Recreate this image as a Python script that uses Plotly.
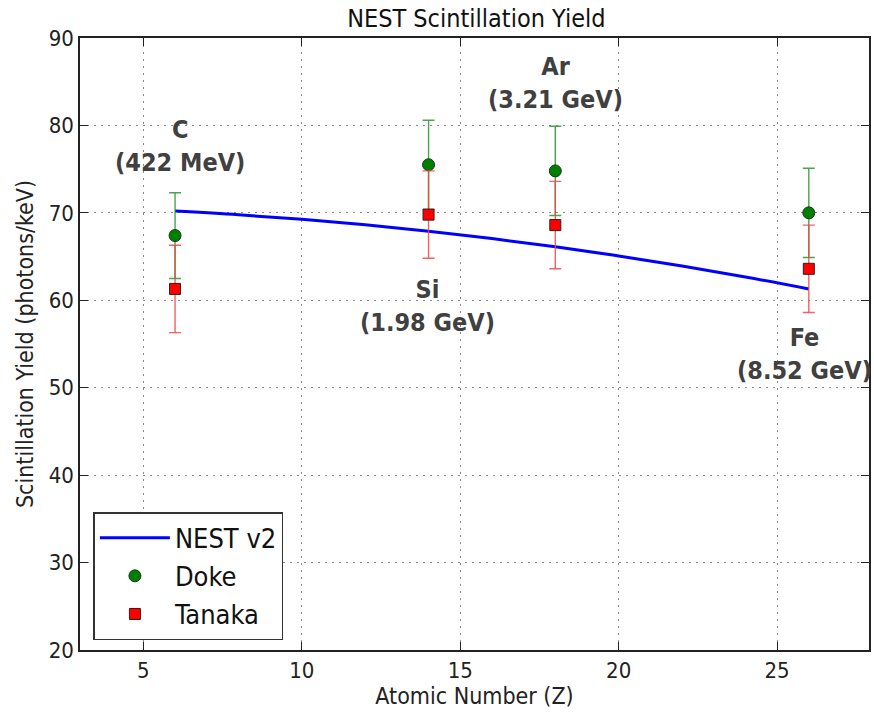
import plotly.graph_objects as go

# ---- data ----
z_points = [6, 14, 18, 26]
doke_yield = [67.4, 75.5, 74.8, 70.0]
doke_err = [4.9, 5.1, 5.1, 5.1]
tanaka_yield = [61.3, 69.8, 68.6, 63.6]
tanaka_err = [5.0, 5.0, 5.0, 5.0]

nest_z = [6, 8, 10, 12, 14, 16, 18, 20, 22, 24, 26]
nest_yield = [70.2, 69.78, 69.26, 68.63, 67.9, 67.06, 66.12, 65.07, 63.92, 62.66, 61.3]

ion_labels = ["C<br>(422 MeV)", "Si<br>(1.98 GeV)", "Ar<br>(3.21 GeV)", "Fe<br>(8.52 GeV)"]
label_x = [6.15, 13.96, 18.02, 25.85]
label_y = [77.6, 59.4, 84.9, 53.9]

x_ticks = [5, 10, 15, 20, 25]
y_ticks = [20, 30, 40, 50, 60, 70, 80, 90]

FONT = "DejaVu Sans Condensed, DejaVu Sans"

fig = go.Figure()
fig.add_trace(go.Scatter(
    x=nest_z, y=nest_yield, mode="lines", name="NEST v2",
    line=dict(color="#0000ff", width=3, shape="spline")))
fig.add_trace(go.Scatter(
    x=z_points, y=doke_yield, mode="markers", name="Doke",
    marker=dict(symbol="circle", size=12, color="#008000",
                line=dict(color="#1a331a", width=1)),
    error_y=dict(type="data", array=doke_err, color="rgba(40,150,40,0.85)",
                 thickness=1.4, width=6)))
fig.add_trace(go.Scatter(
    x=z_points, y=tanaka_yield, mode="markers", name="Tanaka",
    marker=dict(symbol="square", size=11, color="#ff0000",
                line=dict(color="#3a1a1a", width=1)),
    error_y=dict(type="data", array=tanaka_err, color="rgba(240,70,70,0.85)",
                 thickness=1.4, width=6)))

for txt, lx, ly in zip(ion_labels, label_x, label_y):
    fig.add_annotation(x=lx, y=ly, text="<b>" + txt + "</b>", showarrow=False,
                       xanchor="center", yanchor="middle",
                       font=dict(family=FONT, size=25, color="#404040"))

axis_common = dict(
    showline=True, linecolor="#222", linewidth=1.5, mirror="allticks",
    ticks="inside", ticklen=8, tickwidth=1, tickcolor="#222",
    showgrid=True, gridcolor="#8a8a8a", griddash="2px,5px", gridwidth=1,
    zeroline=False, tickfont=dict(family=FONT, size=22, color="#222"))

fig.update_xaxes(range=[3, 27.9], tickvals=x_ticks,
                 title=dict(text="Atomic Number (Z)", font=dict(family=FONT, size=23, color="#222"), standoff=6),
                 **axis_common)
fig.update_yaxes(range=[20, 90], tickvals=y_ticks,
                 title=dict(text="Scintillation Yield (photons/keV)", font=dict(family=FONT, size=23, color="#222"), standoff=9),
                 **axis_common)

fig.update_layout(
    width=874, height=712,
    margin=dict(l=80, r=3, t=38, b=62),
    paper_bgcolor="white", plot_bgcolor="white",
    title=dict(text="NEST Scintillation Yield", x=0.545, xanchor="center",
               y=1 - 18 / 712, yanchor="middle", yref="container",
               font=dict(family=FONT, size=25, color="#111")),
    legend=dict(x=0.017, y=0.016, xanchor="left", yanchor="bottom",
                bgcolor="white", bordercolor="#333", borderwidth=1.5,
                font=dict(family=FONT, size=27, color="#111"),
                itemwidth=70, tracegroupgap=2),
    showlegend=True,
)

fig.write_html("out.html")
